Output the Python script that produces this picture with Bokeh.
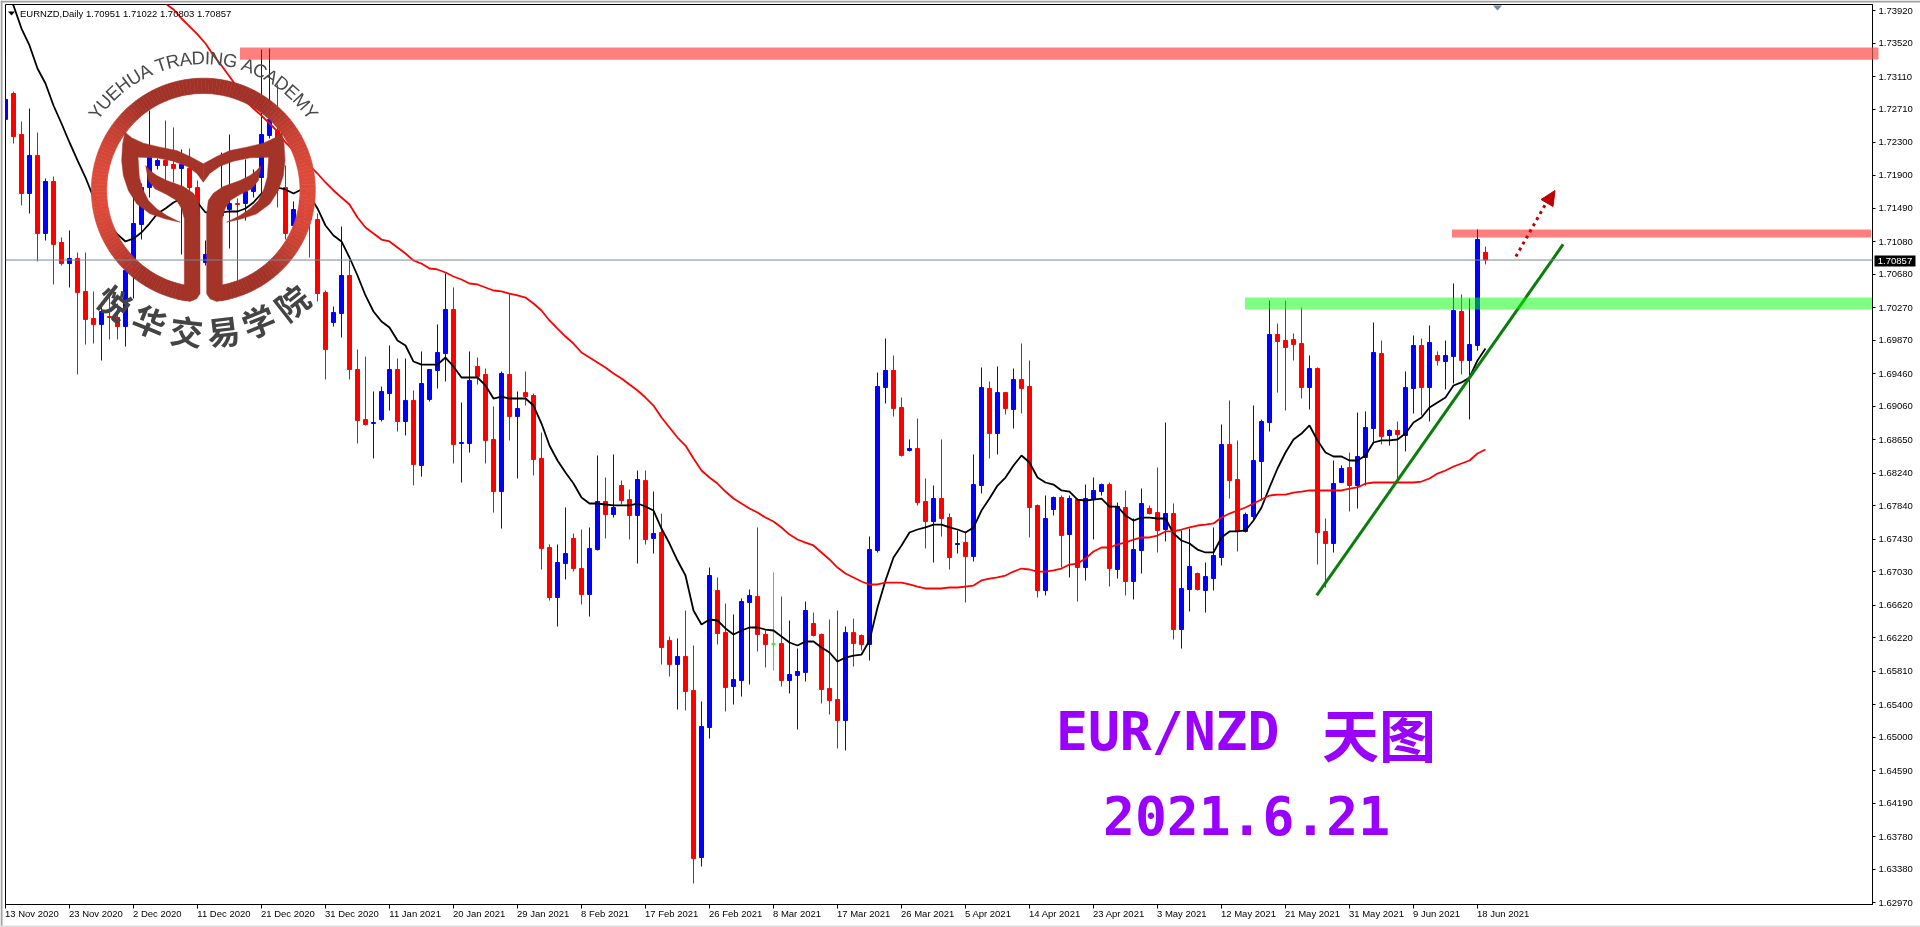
import math
from bokeh.plotting import figure
from bokeh.embed import file_html
from bokeh.resources import INLINE
from bokeh.core.properties import value
from bokeh.models import Label, Span, FixedTicker, NumeralTickFormatter, BoxAnnotation, Range1d, LinearAxis

# ---------------- values ----------------
symbol_line = "EURNZD,Daily  1.70951 1.71022 1.70803 1.70857"
last_price = 1.70857
last_price_text = "1.70857"
date_labels = ["13 Nov 2020","23 Nov 2020","2 Dec 2020","11 Dec 2020","21 Dec 2020","31 Dec 2020","11 Jan 2021","20 Jan 2021",
               "29 Jan 2021","8 Feb 2021","17 Feb 2021","26 Feb 2021","8 Mar 2021","17 Mar 2021","26 Mar 2021","5 Apr 2021",
               "14 Apr 2021","23 Apr 2021","3 May 2021","12 May 2021","21 May 2021","31 May 2021","9 Jun 2021","18 Jun 2021"]
price_ticks = [1.73920,1.73520,1.73110,1.72710,1.72300,1.71900,1.71490,1.71080,1.70680,1.70270,1.69870,1.69460,1.69060,1.68650,
               1.68240,1.67840,1.67430,1.67030,1.66620,1.66220,1.65810,1.65400,1.65000,1.64590,1.64190,1.63780,1.63380,1.62970]

# u = close above open, d = close below open, e = close equal to open; one string per ten bars
direction = "".join(["uddududdud","ddudduuuuu","ddudduuuud","uuuudduudd","duuddduuud","uduuuuduud","ddududdddu","uddu" "ududdu",
                     "duddudduud","duuuddeduu","uddddudduu","uddudduddu","duudududdd","uududuuudu","duudduduud","uuudduuuud",
                     "dddudduudu","uududuudud","uuduud"])

highs = [1.73404,1.72926,1.72558,1.72717,1.72422,1.71858,1.71882,1.71134,1.71220,1.70949,
1.70949,1.70471,1.70323,1.70446,1.70323,1.70913,1.71625,1.71796,1.72693,1.72104,
1.72570,1.72484,1.72214,1.72226,1.71833,1.71097,1.71588,1.72177,1.72398,1.71612,
1.72091,1.71968,1.73441,1.73454,1.73012,1.72018,1.71576,1.71870,1.71711,1.71428,
1.70483,1.70286,1.71269,1.70851,1.69758,1.69672,1.69243,1.69304,1.69808,1.69648,
1.69648,1.69255,1.69734,1.69513,1.70066,1.70692,1.70520,1.69108,1.69734,1.69660,
1.69525,1.69059,1.69489,1.70446,1.69243,1.69489,1.69218,1.68740,1.67365,1.67365,
1.67819,1.67500,1.67549,1.67574,1.68458,1.68187,1.68470,1.68150,1.68040,1.68273,
1.68273,1.68015,1.67745,1.66235,1.66211,1.66555,1.66125,1.65437,1.67082,1.66960,
1.66640,1.66506,1.66702,1.66812,1.67574,1.66309,1.67021,1.66727,1.66432,1.66088,
1.66665,1.66530,1.66272,1.66444,1.66555,1.66358,1.66456,1.66260,1.67463,1.69476,
1.69894,1.69685,1.69169,1.68654,1.68912,1.68175,1.68089,1.68654,1.67745,1.67537,
1.67512,1.68470,1.69538,1.69366,1.69550,1.69230,1.69525,1.69832,1.69624,1.67856,
1.67966,1.67954,1.67966,1.67966,1.67929,1.68101,1.68187,1.68113,1.68126,1.67880,
1.68028,1.67684,1.68052,1.67844,1.68310,1.68862,1.67868,1.67537,1.67561,1.67021,
1.67144,1.67574,1.68838,1.69133,1.68642,1.67757,1.69071,1.68899,1.70360,1.70078,
1.70360,1.69955,1.70274,1.69685,1.69538,1.67684,1.68396,1.68335,1.68494,1.68985,
1.68998,1.70090,1.69869,1.68777,1.68875,1.69489,1.69931,1.69894,1.70053,1.69734,
1.69869,1.70569,1.70434,1.70385,1.71232,1.71022]

body_tops = [1.72828,1.72901,1.72398,1.72141,1.72141,1.71821,1.71821,1.71072,1.70876,1.70876,
1.70471,1.70139,1.70225,1.70164,1.70152,1.70728,1.71305,1.71747,1.72116,1.72079,
1.72079,1.72030,1.72030,1.71981,1.71747,1.70925,1.71404,1.71650,1.71551,1.71551,
1.71698,1.71858,1.72398,1.72583,1.72447,1.71747,1.71477,1.71588,1.71527,1.71355,
1.70458,1.70213,1.70667,1.70667,1.69513,1.68899,1.68862,1.69243,1.69513,1.69513,
1.69133,1.69133,1.69341,1.69513,1.69722,1.70250,1.70250,1.68617,1.69378,1.69550,
1.69452,1.68654,1.69464,1.69452,1.69034,1.69230,1.69194,1.68421,1.67328,1.67144,
1.67254,1.67439,1.67070,1.67316,1.67893,1.67893,1.67819,1.68089,1.67917,1.68163,
1.68150,1.67500,1.67512,1.66186,1.65990,1.65990,1.65572,1.65131,1.66984,1.66800,
1.66284,1.65707,1.66665,1.66739,1.66727,1.66260,1.66143,1.66149,1.65769,1.65806,
1.66555,1.66395,1.66260,1.65597,1.65462,1.66284,1.66284,1.66248,1.67303,1.69304,
1.69501,1.69501,1.69047,1.68543,1.68543,1.67893,1.67929,1.67929,1.67696,1.67377,
1.67389,1.68101,1.69292,1.69280,1.69230,1.69230,1.69390,1.69390,1.69304,1.67844,
1.67684,1.67942,1.67942,1.67929,1.67917,1.67929,1.68028,1.68101,1.68101,1.67831,
1.67819,1.67303,1.67868,1.67807,1.67757,1.67745,1.67745,1.66825,1.67095,1.67009,
1.66972,1.67230,1.68593,1.68593,1.68163,1.67733,1.68396,1.68875,1.69943,1.69943,
1.69869,1.69881,1.69832,1.69525,1.69525,1.67525,1.68113,1.68298,1.68310,1.68445,
1.68801,1.69722,1.69709,1.68764,1.68764,1.69292,1.69808,1.69808,1.69845,1.69685,
1.69685,1.70237,1.70225,1.69820,1.71109,1.70951]

body_bottoms = [1.72583,1.72373,1.71674,1.71674,1.71183,1.71183,1.71048,1.70814,1.70814,1.70458,
1.70127,1.70066,1.70066,1.70152,1.70041,1.70041,1.70826,1.71293,1.71747,1.72018,
1.72018,1.71981,1.71981,1.71747,1.70974,1.70826,1.70925,1.71404,1.71477,1.71539,
1.71551,1.71698,1.71870,1.72386,1.71858,1.71183,1.71281,1.71379,1.71355,1.70446,
1.69758,1.70090,1.70201,1.69513,1.68887,1.68838,1.68850,1.68899,1.69218,1.68875,
1.68875,1.68347,1.68335,1.69145,1.69501,1.69709,1.68593,1.68605,1.68605,1.69427,
1.68642,1.68015,1.68015,1.68936,1.68936,1.69181,1.68408,1.67316,1.66714,1.66714,
1.67131,1.67070,1.66751,1.66751,1.67303,1.67733,1.67733,1.67905,1.67721,1.67721,
1.67426,1.67439,1.66100,1.65892,1.65892,1.65560,1.63510,1.63522,1.65118,1.66272,
1.65609,1.65622,1.65695,1.66653,1.66260,1.66137,1.66143,1.65695,1.65695,1.65757,
1.65794,1.66248,1.65585,1.65450,1.65204,1.65204,1.66149,1.66137,1.66137,1.67291,
1.69292,1.69034,1.68458,1.68519,1.67880,1.67647,1.67647,1.67684,1.67205,1.67365,
1.67217,1.67217,1.68089,1.68727,1.68727,1.69034,1.69022,1.69280,1.67819,1.66800,
1.66800,1.67794,1.67475,1.67487,1.67082,1.67082,1.67917,1.68015,1.67070,1.67058,
1.66911,1.66911,1.67291,1.67745,1.67537,1.67549,1.66321,1.66321,1.66812,1.66812,
1.66800,1.66947,1.67205,1.68150,1.67525,1.67525,1.67708,1.68384,1.68862,1.69857,
1.69783,1.69820,1.69292,1.69292,1.67512,1.67377,1.67377,1.68126,1.68089,1.68089,
1.68433,1.68789,1.68691,1.68703,1.68715,1.68703,1.69280,1.69292,1.69292,1.69624,
1.69611,1.69672,1.69624,1.69624,1.69808,1.70857]

lows = [1.72570,1.72287,1.71527,1.71428,1.70839,1.71097,1.70557,1.70790,1.70520,1.69452,
1.69820,1.69832,1.69624,1.69881,1.69881,1.69795,1.70385,1.71109,1.71625,1.71968,
1.71833,1.71808,1.70925,1.71686,1.70826,1.70790,1.70728,1.71281,1.70999,1.70606,
1.71342,1.71625,1.71650,1.72349,1.71502,1.71109,1.71097,1.71281,1.70888,1.70348,
1.69390,1.70041,1.69906,1.69390,1.68605,1.68826,1.68421,1.68875,1.69010,1.68752,
1.68703,1.68089,1.68199,1.69120,1.69280,1.69366,1.68359,1.68126,1.68494,1.69329,
1.68359,1.67757,1.67561,1.68642,1.68175,1.69071,1.68212,1.67058,1.66677,1.66358,
1.66935,1.67033,1.66628,1.66481,1.67291,1.67439,1.67696,1.67856,1.67426,1.67131,
1.67365,1.67254,1.65892,1.65744,1.65339,1.65327,1.63203,1.63412,1.64983,1.66137,
1.65315,1.65401,1.65499,1.65646,1.66051,1.65855,1.65818,1.65622,1.65536,1.65094,
1.65683,1.66235,1.65413,1.65278,1.64861,1.64836,1.65867,1.66063,1.65941,1.67267,
1.69096,1.68936,1.68445,1.68507,1.67844,1.67316,1.67144,1.67463,1.67058,1.67254,
1.66653,1.67156,1.67991,1.68421,1.68470,1.68961,1.68789,1.68973,1.67451,1.66714,
1.66739,1.67721,1.67082,1.66960,1.66665,1.66923,1.67426,1.67966,1.66849,1.66947,
1.66739,1.66690,1.67009,1.67733,1.67267,1.67402,1.66199,1.66088,1.66542,1.66800,
1.66530,1.66800,1.67107,1.67929,1.67279,1.67512,1.67659,1.67905,1.68752,1.69230,
1.69010,1.69624,1.69157,1.69022,1.67119,1.66837,1.67267,1.68126,1.67770,1.67807,
1.68089,1.68617,1.68593,1.68580,1.68150,1.68507,1.68973,1.68949,1.68875,1.69562,
1.69268,1.69341,1.69452,1.68899,1.69746,1.70803]

fast_ma = [1.74104,1.73982,1.73699,1.73491,1.73208,1.73024,1.72754,1.72533,1.72300,1.72079,
1.71870,1.71625,1.71441,1.71281,1.71171,1.71085,1.71121,1.71195,1.71305,1.71428,
1.71490,1.71563,1.71612,1.71625,1.71563,1.71441,1.71441,1.71441,1.71453,1.71453,
1.71490,1.71563,1.71674,1.71711,1.71747,1.71723,1.71674,1.71723,1.71650,1.71490,
1.71281,1.71158,1.71085,1.70888,1.70667,1.70422,1.70225,1.70102,1.70029,1.69869,
1.69808,1.69611,1.69574,1.69574,1.69574,1.69660,1.69550,1.69415,1.69415,1.69415,
1.69317,1.69157,1.69181,1.69157,1.69157,1.69157,1.69071,1.68850,1.68580,1.68396,
1.68249,1.68113,1.67941,1.67868,1.67868,1.67856,1.67844,1.67844,1.67844,1.67868,
1.67831,1.67782,1.67561,1.67377,1.67168,1.66984,1.66555,1.66383,1.66444,1.66432,
1.66334,1.66260,1.66309,1.66346,1.66346,1.66321,1.66309,1.66235,1.66162,1.66125,
1.66174,1.66174,1.66100,1.66039,1.65928,1.65977,1.66002,1.66014,1.66186,1.66592,
1.66923,1.67205,1.67353,1.67512,1.67549,1.67574,1.67610,1.67610,1.67574,1.67549,
1.67512,1.67574,1.67782,1.67929,1.68089,1.68187,1.68335,1.68458,1.68371,1.68187,
1.68126,1.68101,1.68028,1.68015,1.67917,1.67905,1.67917,1.67929,1.67831,1.67831,
1.67721,1.67659,1.67696,1.67696,1.67684,1.67684,1.67500,1.67414,1.67377,1.67303,
1.67267,1.67267,1.67451,1.67525,1.67525,1.67537,1.67659,1.67819,1.68065,1.68298,
1.68494,1.68654,1.68727,1.68826,1.68642,1.68494,1.68445,1.68445,1.68396,1.68396,
1.68458,1.68617,1.68642,1.68642,1.68654,1.68727,1.68862,1.68924,1.69047,1.69108,
1.69169,1.69317,1.69354,1.69415,1.69624,1.69771]

slow_ma_first_bar = 20
slow_ma = [1.74006,1.73933,1.73822,1.73724,1.73626,1.73515,1.73368,1.73245,1.73110,1.72975,
1.72815,1.72717,1.72631,1.72533,1.72435,1.72300,1.72202,1.72104,1.72018,1.71919,
1.71809,1.71711,1.71625,1.71539,1.71379,1.71256,1.71183,1.71109,1.71085,1.71011,
1.70937,1.70851,1.70814,1.70753,1.70741,1.70704,1.70655,1.70618,1.70569,1.70557,
1.70520,1.70483,1.70471,1.70446,1.70422,1.70397,1.70323,1.70237,1.70115,1.70016,
1.69918,1.69832,1.69722,1.69660,1.69599,1.69538,1.69464,1.69403,1.69329,1.69255,
1.69169,1.69071,1.68924,1.68801,1.68678,1.68580,1.68421,1.68273,1.68187,1.68113,
1.68015,1.67929,1.67868,1.67807,1.67757,1.67696,1.67647,1.67574,1.67487,1.67426,
1.67389,1.67353,1.67267,1.67181,1.67082,1.67009,1.66960,1.66911,1.66874,1.66874,
1.66898,1.66898,1.66898,1.66874,1.66849,1.66825,1.66825,1.66825,1.66837,1.66837,
1.66849,1.66861,1.66923,1.66947,1.66960,1.66984,1.67033,1.67070,1.67058,1.67033,
1.67033,1.67046,1.67070,1.67119,1.67131,1.67193,1.67279,1.67328,1.67328,1.67365,
1.67389,1.67426,1.67451,1.67451,1.67475,1.67525,1.67525,1.67549,1.67574,1.67598,
1.67610,1.67623,1.67696,1.67745,1.67782,1.67819,1.67868,1.67917,1.67966,1.67978,
1.67978,1.68003,1.68015,1.68028,1.68028,1.68028,1.68028,1.68028,1.68052,1.68065,
1.68113,1.68126,1.68126,1.68126,1.68126,1.68126,1.68126,1.68138,1.68175,1.68236,
1.68273,1.68322,1.68359,1.68396,1.68482,1.68531]

# drawn objects: zones and the trend line, as (bar, price)
resistance_top = (1.73465, 1.73316)
resistance_mid = (1.71232, 1.71134)
support_zone = (1.70397, 1.70250)
trend_bars = [163.9, 194.7]
trend_prices = [1.66739, 1.71048]
forecast_bars = [188.8, 192.6]
forecast_prices = [1.70900, 1.71560]

# ---------------- page geometry ----------------
W, H = 1920, 927
LEFT, TOP, RIGHT, BOTTOM = 5, 4, 1872, 904
BAR_PX = 8.0
PX_PER_PRICE = 8146.0
X_SHIFT = 0.5                     # half-pixel alignment of the 1px wicks

def sx(px):                       # page pixel -> bar number
    return (px - 5.5) / BAR_PX
def sy(py):                       # page pixel -> price
    return 1.74043 - py / PX_PER_PRICE

UP, DOWN, FLAT = "#0000FF", "#FF0000", "#00FF00"
FONT = "Liberation Sans"
LABEL_SIZE = "9.5px"

fixed = {"position": "fixed", "left": "0px", "top": "0px"}
p = figure(width=W, height=H, output_backend="svg", toolbar_location=None, y_axis_location="right",
           x_range=Range1d(sx(LEFT + X_SHIFT), sx(RIGHT + X_SHIFT)), y_range=Range1d(sy(BOTTOM), sy(TOP)),
           min_border_left=LEFT, min_border_top=TOP, min_border_right=W-RIGHT, min_border_bottom=H-BOTTOM,
           background_fill_color="white", border_fill_color="white", outline_line_color="black", outline_line_width=1,
           styles=fixed)
p.grid.visible = False

# axes
p.yaxis.ticker = FixedTicker(ticks=price_ticks)
p.yaxis.formatter = NumeralTickFormatter(format="0.00000")
p.yaxis.major_tick_in = 0
p.yaxis.major_tick_out = 3
p.yaxis.minor_tick_line_color = None
p.yaxis.major_label_standoff = 3
p.yaxis.major_label_text_font = FONT
p.yaxis.major_label_text_font_size = LABEL_SIZE
p.yaxis.major_label_text_color = "black"
p.yaxis.axis_line_color = "black"

tick_bars = [i * 8 for i in range(len(date_labels))]
p.xaxis.ticker = FixedTicker(ticks=tick_bars)
p.xaxis.major_label_overrides = {t: "" for t in tick_bars}
p.xaxis.major_label_standoff = 0
p.xaxis.major_label_text_font_size = "0px"
p.xaxis.major_tick_in = 0
p.xaxis.major_tick_out = 4
p.xaxis.minor_tick_line_color = None
p.xaxis.axis_line_color = "black"

# date labels: a second axis whose labels start at each tick, as in the original
glyph_w = {" ": 278, "N": 722, "o": 556, "v": 500, "D": 722, "e": 556, "c": 500, "J": 500, "a": 556, "n": 556, "F": 611, "b": 556,
           "M": 833, "r": 333, "A": 667, "p": 556, "y": 500, "u": 556}
def text_px(s):
    return sum(glyph_w.get(c, 556) for c in s) * 9.5 / 1000.0
label_centers = [sx(5.5 + t * BAR_PX - 1.0 + text_px(d) / 2) + X_SHIFT / BAR_PX for t, d in zip(tick_bars, date_labels)]
date_axis = LinearAxis(ticker=FixedTicker(ticks=label_centers),
                       major_label_overrides={c: d for c, d in zip(label_centers, date_labels)},
                       axis_line_color=None, major_tick_line_color=None, minor_tick_line_color=None,
                       major_tick_out=0, major_tick_in=0, major_label_standoff=-1,
                       major_label_text_font=FONT, major_label_text_font_size=LABEL_SIZE, major_label_text_color="black")
p.add_layout(date_axis, "below")

# candles
bars = list(range(len(highs)))
colors = [{"u": UP, "d": DOWN, "e": FLAT}[d] for d in direction]
p.segment(bars, highs, bars, lows, color=colors, line_width=1)
p.vbar(bars, width=4/BAR_PX, top=body_tops, bottom=body_bottoms, fill_color=colors, line_color=colors, line_width=1)

# moving averages
p.line(bars, fast_ma, line_color="black", line_width=1.8)
p.line(list(range(slow_ma_first_bar, len(highs))), slow_ma, line_color="#FF0000", line_width=1.8)

# last price line
p.add_layout(Span(location=last_price, dimension="width", line_color="#778899", line_width=1))

# zones
p.add_layout(BoxAnnotation(left=sx(240), right=sx(1878), top=resistance_top[0], bottom=resistance_top[1],
                           fill_color="#FF0000", fill_alpha=0.5, line_color=None))
p.add_layout(BoxAnnotation(left=sx(1452), right=sx(1871), top=resistance_mid[0], bottom=resistance_mid[1],
                           fill_color="#FF0000", fill_alpha=0.5, line_color=None))
p.add_layout(BoxAnnotation(left=sx(1245), right=sx(1872), top=support_zone[0], bottom=support_zone[1],
                           fill_color="#00FF00", fill_alpha=0.5, line_color=None))

# trend line and forecast arrow
p.line(trend_bars, trend_prices, line_color="#0A7D0A", line_width=3)
p.line(forecast_bars, forecast_prices, line_color="#C00000", line_width=3, line_dash="3 4")
p.patch([sx(1555), sx(1541), sx(1553)], [sy(190), sy(199), sy(206)], fill_color="#C00000", line_color="#C00000", line_width=1)

# small chart markers
p.patch([sx(1493), sx(1502), sx(1497.5)], [sy(5), sy(5), sy(10)], fill_color="#778899", line_color=None)
p.patch([sx(8), sx(15), sx(11.5)], [sy(11), sy(11), sy(15)], fill_color="black", line_color=None)

# ---------------- watermark logo (z units: 1/3 page pixel) ----------------
ZC = 610.0
def zx(z): return sx(z / 3.0)
def zy(z): return sy(z / 3.0)
def hexlerp(a, b, t):
    ca = [int(a[i:i+2], 16) for i in (1, 3, 5)]
    cb = [int(b[i:i+2], 16) for i in (1, 3, 5)]
    return "#%02X%02X%02X" % tuple(round(u + (v - u) * t) for u, v in zip(ca, cb))

cx, cy, r_out, r_in = 610.0, 569.0, 336.0, 290.0
ring_x, ring_y, ring_c = [], [], []
for phi in range(9, 351, 2):
    a0, a1 = math.radians(phi), math.radians(phi + 2)
    pts = [(r_out, a0), (r_out, a1), (r_in, a1), (r_in, a0)]
    ring_x.append([zx(cx - r * math.sin(a)) for r, a in pts])
    ring_y.append([zy(cy + r * math.cos(a)) for r, a in pts])
    t = max(0.0, (abs(math.sin((a0 + a1) / 2)) - 0.6) / 0.4)
    ring_c.append(hexlerp("#A23228", "#DE4A3A", t))
p.patches(ring_x, ring_y, fill_color=ring_c, line_color=ring_c, line_width=0.6)

tail = [(610,490),(570,468),(530,450),(480,440),(430,428),(395,412),(375,395),(368,430),(365,480),(370,525),(385,570),
        (410,610),(450,640),(495,655),(540,665),(500,645),(470,625),(445,600),(428,565),(418,530),(414,470),(470,472),
        (520,482),(560,497),(590,518),(610,545)]
stem = [(437,495),(445,540),(465,565),(500,582),(530,600),(545,625),(553,655),(553,855),(530,895),(570,903),(590,895),
        (600,880),(600,640),(595,600),(580,578),(550,558),(500,540),(470,525),(450,510)]
for poly in (tail, stem):
    for mirror in (False, True):
        xs = [zx(2 * ZC - a if mirror else a) for a, b in poly]
        ys = [zy(b) for a, b in poly]
        p.patch(xs, ys, fill_color="#A53428", line_color="#A53428", line_width=0.5)

# arc lettering
academy = "YUEHUA TRADING ACADEMY"
widths = dict(zip("YUEHATRDINGCM ", [667,722,667,722,667,611,722,722,278,722,778,722,833,278]))
fs = 18.5
r_text = 132.5
total = sum(widths[c] for c in academy) * fs / 1000.0
pos, ax, ay, aa = 0.0, [], [], []
for c in academy:
    w = widths[c] * fs / 1000.0
    th = (pos + w / 2 - total / 2) / r_text
    ax.append(sx(cx / 3 + r_text * math.sin(th)))
    ay.append(sy(cy / 3 - r_text * math.cos(th)))
    aa.append(-th)
    pos += w
p.text(ax, ay, text=list(academy), angle=aa, text_font=value("Liberation Sans"), text_font_size=value("18.5px"),
       text_color="#4A4A4A", text_align="center", text_baseline="alphabetic")

school = list("悦华交易学院")
school_z = [(345,905),(450,960),(560,990),(670,990),(775,960),(875,905)]
school_angle = [-38, -22, -7, 7, 22, 38]
p.text([zx(a) for a, b in school_z], [zy(b) for a, b in school_z], text=school,
       angle=[math.radians(a) for a in school_angle], text_font=value("Noto Sans CJK SC"), text_font_size=value("33px"),
       text_font_style="bold", text_color="#444444", text_align="center", text_baseline="middle")

# ---------------- texts in the plot ----------------
def label(px, py, text, font=FONT, size=LABEL_SIZE, color="black", align="left", base="middle", style="normal"):
    p.add_layout(Label(x=sx(px), y=sy(py), text=text, text_font=font, text_font_size=size, text_color=color,
                       text_align=align, text_baseline=base, text_font_style=style))

label(20, 12.5, symbol_line)
purple = "#9900FF"
label(1056, 731, "EUR/NZD", font="DejaVu Sans Mono", size="53px", color=purple, style="bold")
label(1322, 731, "天图", font="Noto Sans CJK SC", size="57px", color=purple, style="bold")
label(1103, 815, "2021.6.21", font="DejaVu Sans Mono", size="53px", color=purple, style="bold")

# ---------------- overlay for what lies over the axis band ----------------
q = figure(width=W, height=H, output_backend="svg", toolbar_location=None, x_axis_type=None, y_axis_type=None,
           x_range=Range1d(0, W), y_range=Range1d(H, 0), min_border=0, outline_line_color=None,
           background_fill_color=None, border_fill_color=None, styles=fixed)
q.grid.visible = False
q.quad(left=[1872], right=[1878], top=[47], bottom=[59], fill_color="#FF8080", line_color=None)      # end of the top zone
q.quad(left=[1874], right=[1915], top=[255], bottom=[266], fill_color="black", line_color=None)      # price tag
q.text([1894.5], [260.5], text=[last_price_text], text_color="white", text_font=value(FONT), text_font_size=value(LABEL_SIZE),
       text_align="center", text_baseline="middle")
q.quad(left=[0, 0, 0], right=[1920, 2, 1920], top=[0, 0, 925], bottom=[2, 927, 927],
       fill_color=["#A0A0A0", "#A0A0A0", "#DDDDDD"], line_color=None)                                # window edge

open("out.html", "w").write(file_html([p, q], INLINE))
